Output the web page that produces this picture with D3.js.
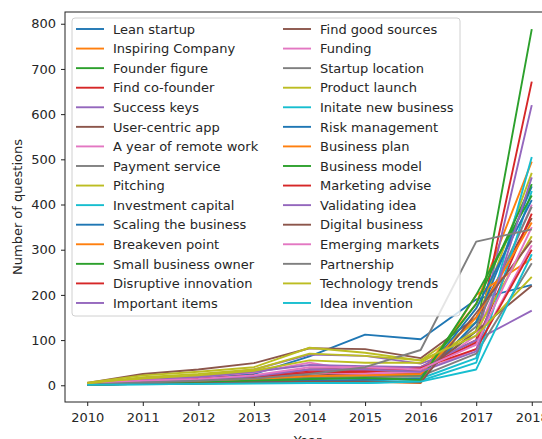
<!DOCTYPE html>
<html>
<script src="https://cdn.jsdelivr.net/npm/d3@7"></script>
<style>
    body {
        margin: 0;
        background: white;
    }

    text {
        font-family: "DejaVu Sans", sans-serif;
        fill: #262626;
    }

    .tick text {
        font-size: 13px;
    }
</style>

<body>
</body>
<script>
    const width = 542,
        height = 439;
    const years = [2010, 2011, 2012, 2013, 2014, 2015, 2016, 2017, 2018];
    const yTicks = [0, 100, 200, 300, 400, 500, 600, 700, 800];
    const topics = ["Lean startup", "Inspiring Company", "Founder figure", "Find co-founder", "Success keys",
        "User-centric app", "A year of remote work", "Payment service", "Pitching", "Investment capital",
        "Scaling the business", "Breakeven point", "Small business owner", "Disruptive innovation",
        "Important items", "Find good sources", "Funding", "Startup location", "Product launch",
        "Initate new business", "Risk management", "Business plan", "Business model", "Marketing advise",
        "Validating idea", "Digital business", "Emerging markets", "Partnership", "Technology trends",
        "Idea invention"
    ];
    // questions per year, one row per topic (same order as topics)
    const counts = [
        [3, 10, 15, 25, 64, 112, 102, 190, 222],
        [2, 8, 12, 18, 30, 30, 28, 180, 495],
        [1, 5, 8, 12, 20, 22, 20, 120, 788],
        [2, 10, 14, 20, 35, 38, 40, 100, 672],
        [4, 15, 20, 35, 68, 65, 48, 90, 620],
        [5, 25, 35, 49, 82, 80, 60, 150, 370],
        [3, 12, 18, 28, 50, 30, 25, 110, 400],
        [2, 8, 12, 20, 35, 35, 30, 130, 395],
        [6, 22, 30, 40, 83, 72, 55, 140, 470],
        [1, 4, 6, 8, 12, 10, 15, 60, 505],
        [2, 6, 8, 12, 18, 15, 12, 140, 440],
        [1, 3, 5, 8, 10, 8, 5, 200, 280],
        [1, 5, 7, 10, 15, 18, 20, 180, 445],
        [3, 10, 14, 22, 30, 32, 35, 95, 380],
        [2, 12, 18, 30, 45, 42, 40, 100, 165],
        [2, 6, 8, 12, 22, 25, 25, 120, 220],
        [2, 8, 10, 16, 28, 25, 30, 80, 310],
        [1, 4, 6, 10, 15, 18, 20, 70, 270],
        [3, 15, 22, 32, 55, 50, 50, 120, 330],
        [1, 2, 3, 5, 6, 5, 10, 50, 430],
        [1, 3, 5, 7, 10, 12, 15, 170, 410],
        [2, 6, 9, 14, 20, 22, 25, 150, 360],
        [1, 4, 6, 10, 14, 16, 12, 200, 420],
        [2, 8, 12, 18, 28, 30, 38, 80, 300],
        [2, 9, 12, 20, 35, 35, 30, 75, 460],
        [1, 3, 4, 6, 8, 8, 6, 160, 320],
        [3, 10, 14, 22, 40, 40, 35, 90, 350],
        [2, 6, 10, 15, 25, 40, 78, 318, 345],
        [4, 18, 25, 35, 70, 65, 55, 110, 240],
        [1, 2, 3, 4, 5, 5, 8, 35, 290]
    ];
    const palette = ["#1f77b4", "#ff7f0e", "#2ca02c", "#d62728", "#9467bd", "#8c564b", "#e377c2", "#7f7f7f",
        "#bcbd22", "#17becf"
    ];

    const plotL = 65,
        plotT = 12,
        plotR = 554,
        plotB = 402;
    const svg = d3.select("body").append("svg").attr("width", width).attr("height", height);
    const x = d3.scaleLinear()
        .domain([2009.6, 2018.4])
        .range([plotL, plotR]);
    const y = d3.scaleLinear()
        .domain([-37, 826])
        .range([plotB, plotT]);
    const color = i => palette[i % palette.length];

    const line = d3.line()
        .x((v, i) => x(years[i]))
        .y(v => y(v));

    svg.selectAll(".series")
        .data(counts)
        .join("path")
        .attr("class", "series")
        .attr("fill", "none")
        .attr("stroke", (d, i) => color(i))
        .attr("stroke-width", 1.9)
        .attr("stroke-linejoin", "round")
        .attr("d", line);

    // frame
    svg.append("rect")
        .attr("x", plotL)
        .attr("y", plotT)
        .attr("width", plotR - plotL)
        .attr("height", plotB - plotT)
        .attr("fill", "none")
        .attr("stroke", "#222")
        .attr("stroke-width", 1);

    const xAxis = svg.append("g")
        .attr("transform", `translate(0,${plotB})`)
        .call(d3.axisBottom(x)
            .tickValues(years)
            .tickFormat(d => d)
            .tickSize(4)
            .tickPadding(7));
    const yAxis = svg.append("g")
        .attr("transform", `translate(${plotL},0)`)
        .call(d3.axisLeft(y)
            .tickValues(yTicks)
            .tickSize(4)
            .tickPadding(5));
    svg.selectAll(".domain").remove();
    svg.selectAll(".tick line").attr("stroke", "#222");
    svg.selectAll(".tick text").attr("fill", "#262626");

    svg.append("text")
        .attr("x", (plotL + plotR) / 2 - 2)
        .attr("y", 445)
        .attr("text-anchor", "middle")
        .attr("font-size", 13)
        .text("Year");
    svg.append("text")
        .attr("transform", `translate(22,${(plotT + plotB) / 2}) rotate(-90)`)
        .attr("text-anchor", "middle")
        .attr("font-size", 13)
        .text("Number of questions");

    // legend, two columns of 15
    const legend = svg.append("g");
    legend.append("rect")
        .attr("x", 72)
        .attr("y", 18)
        .attr("width", 388)
        .attr("height", 298)
        .attr("rx", 3)
        .attr("fill", "white")
        .attr("fill-opacity", 0.8)
        .attr("stroke", "#d0d0d0");
    const rowH = 19.57;
    const item = legend.selectAll(".item")
        .data(topics)
        .join("g")
        .attr("class", "item")
        .attr("transform", (d, i) => `translate(${i < 15 ? 76 : 283},${29 + (i % 15) * rowH})`);
    item.append("line")
        .attr("x1", 0)
        .attr("x2", 28)
        .attr("stroke", (d, i) => color(i))
        .attr("stroke-width", 1.9);
    item.append("text")
        .attr("x", 37)
        .attr("dy", "0.36em")
        .attr("font-size", 13)
        .text(d => d);
</script>

</html>
